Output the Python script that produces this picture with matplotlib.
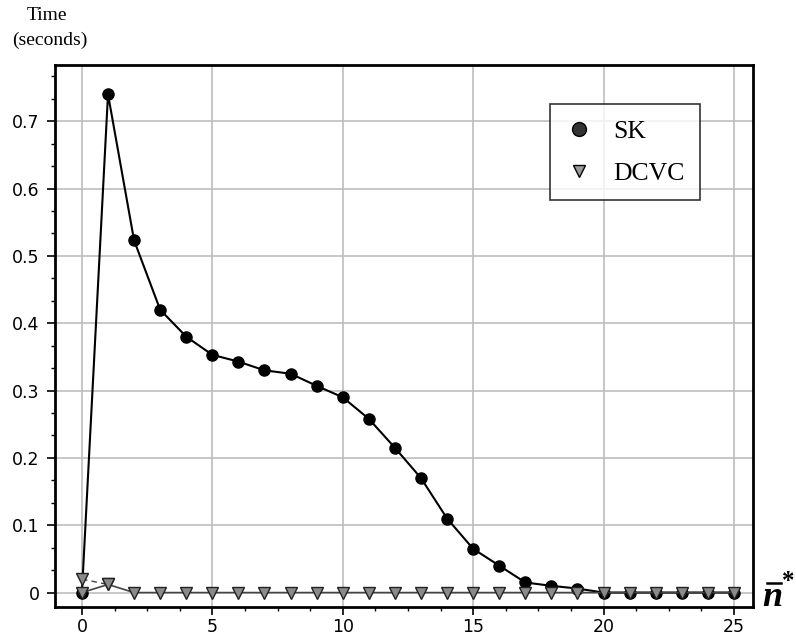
import matplotlib
matplotlib.use("Agg")
import matplotlib.pyplot as plt
from matplotlib.ticker import MultipleLocator
from matplotlib.lines import Line2D

# Data
n_values = list(range(0, 26))
sk_time = [0.0, 0.74, 0.523, 0.42, 0.38, 0.353, 0.343, 0.33, 0.325, 0.307, 0.29,
           0.258, 0.215, 0.17, 0.11, 0.065, 0.04, 0.015, 0.01, 0.006, 0.0,
           0.0, 0.0, 0.0, 0.0, 0.0]
dcvc_time = [0.0, 0.012, 0.0, 0.0, 0.0, 0.0, 0.0, 0.0, 0.0, 0.0, 0.0,
             0.0, 0.0, 0.0, 0.0, 0.0, 0.0, 0.0, 0.0, 0.0, 0.0,
             0.0, 0.0, 0.0, 0.0, 0.0]
dcvc_alt_n = [0, 1]
dcvc_alt_time = [0.02, 0.012]
y_ticks = [0, 0.1, 0.2, 0.3, 0.4, 0.5, 0.6, 0.7]
y_tick_labels = ["0", "0.1", "0.2", "0.3", "0.4", "0.5", "0.6", "0.7"]
x_ticks = [0, 5, 10, 15, 20, 25]

fig = plt.figure(figsize=(7.96, 6.4), dpi=100)
ax = fig.add_axes([0.069, 0.052, 0.877, 0.846])

ax.plot(n_values, sk_time, color="black", lw=1.5, marker="o", ms=8,
        mfc="black", mec="black", zorder=3, label="SK")
ax.plot(dcvc_alt_n, dcvc_alt_time, color="#444444", lw=1.0, ls=(0, (4, 3)),
        marker="v", ms=9, mfc="#8a8a8a", mec="#222222", mew=1.0, zorder=4)
ax.plot(n_values, dcvc_time, color="#444444", lw=1.2,
        marker="v", ms=9, mfc="#8a8a8a", mec="#222222", mew=1.0, zorder=4)

ax.set_xlim(-1.035, 25.73)
ax.set_ylim(-0.021, 0.783)
ax.set_xticks(x_ticks)
ax.set_yticks(y_ticks)
ax.set_yticklabels(y_tick_labels)
ax.xaxis.set_minor_locator(MultipleLocator(1.25))
ax.yaxis.set_minor_locator(MultipleLocator(0.1 / 3))
ax.grid(True, which="major", color="#bdbdbd", lw=1.2)
ax.set_axisbelow(True)
ax.tick_params(which="major", direction="out", length=6, width=1.2, labelsize=12.5)
ax.tick_params(axis="x", which="major", pad=2)
ax.tick_params(axis="y", which="major", pad=5)
ax.tick_params(which="minor", direction="out", length=3, width=1.0)
for s in ax.spines.values():
    s.set_linewidth(2.0)
    s.set_color("black")

# Legend
handles = [
    Line2D([], [], ls="none", marker="o", ms=10, mfc="#333333", mec="black"),
    Line2D([], [], ls="none", marker="v", ms=9, mfc="#9a9a9a", mec="black"),
]
leg = ax.legend(handles, ["SK", "DCVC"], loc="upper left",
                bbox_to_anchor=(0.709, 0.928), frameon=True, fancybox=False,
                prop={"family": "Liberation Serif", "size": 18.5},
                borderpad=0.6, labelspacing=0.75, handletextpad=0.75,
                handlelength=1.1, borderaxespad=0)
leg.get_frame().set_edgecolor("black")
leg.get_frame().set_linewidth(1.2)

fig.text(0.033, 0.975, "Time", family="Liberation Serif", fontsize=14, va="center", ha="left")
fig.text(0.015, 0.937, "(seconds)", family="Liberation Serif", fontsize=14, va="center", ha="left")

# x-axis label: n with bar and asterisk
fig.text(0.958, 0.053, "n", family="Liberation Serif", fontsize=26, fontweight="bold",
         fontstyle="italic", va="baseline", ha="left")
fig.add_artist(Line2D([0.963, 0.981], [0.089, 0.089], color="black", lw=1.8,
                      transform=fig.transFigure))
fig.text(0.982, 0.110, "*", family="Liberation Serif", fontsize=18, fontweight="bold",
         va="top", ha="left")

fig.savefig("out.png", dpi=100)
